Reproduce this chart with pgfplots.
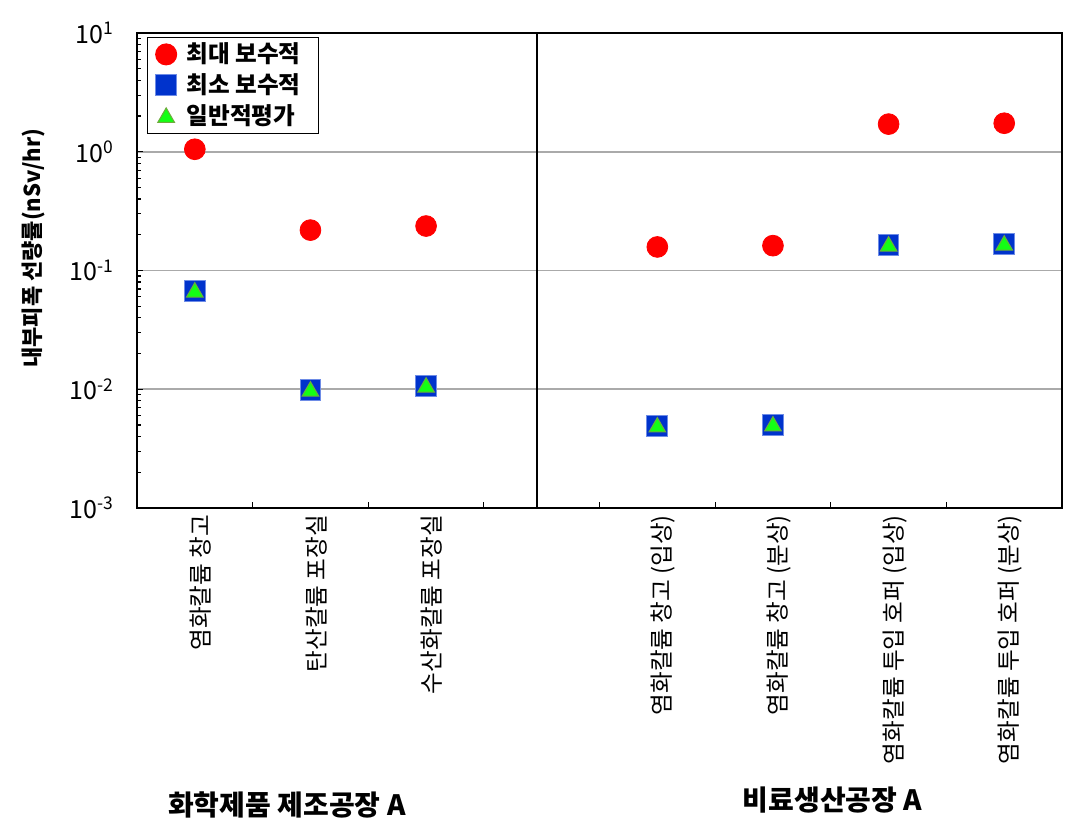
\documentclass[border=0pt]{standalone}
\usepackage{fontspec}
\setmainfont{Noto Sans CJK KR}
\usepackage{pgfplots}
\pgfplotsset{compat=1.18}
\definecolor{myred}{RGB}{255,0,0}
\definecolor{myblue}{RGB}{0,51,204}
\definecolor{myblueedge}{RGB}{110,140,230}
\definecolor{mygreen}{RGB}{20,255,20}
\definecolor{mygreenedge}{RGB}{110,170,60}
\definecolor{gridgray}{RGB}{170,170,170}
\begin{document}
\begin{tikzpicture}
\begin{axis}[
  scale only axis, width=462.5pt, height=237.5pt,
  ymode=log, ymin=1e-3, ymax=10,
  xmin=0, xmax=8,
  xtick={1,2,3,4,5,6,7}, xticklabels={,,,,,,},
  extra x ticks={0.5,1.5,2.5,4.5,5.5,6.5,7.5},
  extra x tick labels={염화칼륨 창고, 탄산칼륨 포장실, 수산화칼륨 포장실, 염화칼륨 창고 (입상), 염화칼륨 창고 (분상), 염화칼륨 투입 호퍼 (입상), 염화칼륨 투입 호퍼 (분상)},
  extra x tick style={major tick length=0pt, xticklabel style={rotate=90, anchor=east, yshift=-3pt, font=\fontsize{11.8}{13}\selectfont}},
  tick align=inside,
  xtick pos=bottom, ytick pos=left,
  major tick length=3pt, minor tick length=2pt,
  ytick={1e-3,1e-2,1e-1,1,10},
  yticklabels={10\textsuperscript{-3},10\textsuperscript{-2},10\textsuperscript{-1},10\textsuperscript{0},10\textsuperscript{1}},
  minor ytick={2e-3,3e-3,4e-3,5e-3,6e-3,7e-3,8e-3,9e-3,2e-2,3e-2,4e-2,5e-2,6e-2,7e-2,8e-2,9e-2,0.2,0.3,0.4,0.5,0.6,0.7,0.8,0.9,2,3,4,5,6,7,8,9},
  yticklabel style={font=\fontsize{12.5}{14}\selectfont, xshift=-8pt},
  ymajorgrids, major grid style={gridgray, line width=0.8pt},
  axis line style={black, line width=0.8pt},
  every tick/.style={black, line width=0.6pt},
  legend style={at={(0.011,0.992)}, anchor=north west, draw=black, line width=0.6pt,
    font=\bfseries\fontsize{11.8}{13}\selectfont, row sep=0pt, inner xsep=4pt, inner ysep=0.75pt,
    nodes={inner xsep=5pt}},
  legend cell align=left,
  clip=false,
]
\addplot[only marks, mark=*, mark size=5.2pt, mark options={fill=myred, draw=myred}]
  coordinates {(0.5,1.05) (1.5,0.219) (2.5,0.237) (4.5,0.158) (5.5,0.162) (6.5,1.71) (7.5,1.74)};
\addlegendentry{최대 보수적}
\addplot[only marks, mark=square*, mark size=5.2pt, mark options={fill=myblue, draw=myblueedge, line width=0.5pt}]
  coordinates {(0.5,0.0672) (1.5,0.00986) (2.5,0.01064) (4.5,0.00491) (5.5,0.00501) (6.5,0.164) (7.5,0.167)};
\addlegendentry{최소 보수적}
\addplot[only marks, mark=triangle*, mark size=4.8pt, mark options={fill=mygreen, draw=mygreenedge, line width=0.5pt, yshift=-0.6pt}]
  coordinates {(0.5,0.0672) (1.5,0.00986) (2.5,0.01064) (4.5,0.00491) (5.5,0.00501) (6.5,0.164) (7.5,0.167)};
\addlegendentry{일반적평가}
\draw[black, line width=0.8pt] (axis cs:3.46,1e-3) -- (axis cs:3.46,10);
\node[rotate=90, font=\bfseries\fontsize{11}{13}\selectfont] at (rel axis cs:-0.112,0.547) {내부피폭 선량률(nSv/hr)};
\node[font=\bfseries\fontsize{14}{16}\selectfont] at (rel axis cs:0.162,-0.625) {화학제품 제조공장 A};
\node[font=\bfseries\fontsize{14}{16}\selectfont] at (rel axis cs:0.752,-0.615) {비료생산공장 A};
\coordinate (bl) at (rel axis cs:-0.1481,-0.6905);
\coordinate (tr) at (rel axis cs:1.0324,1.0695);
\end{axis}
\pgfresetboundingbox
\path (bl) rectangle (tr);
\end{tikzpicture}
\end{document}
